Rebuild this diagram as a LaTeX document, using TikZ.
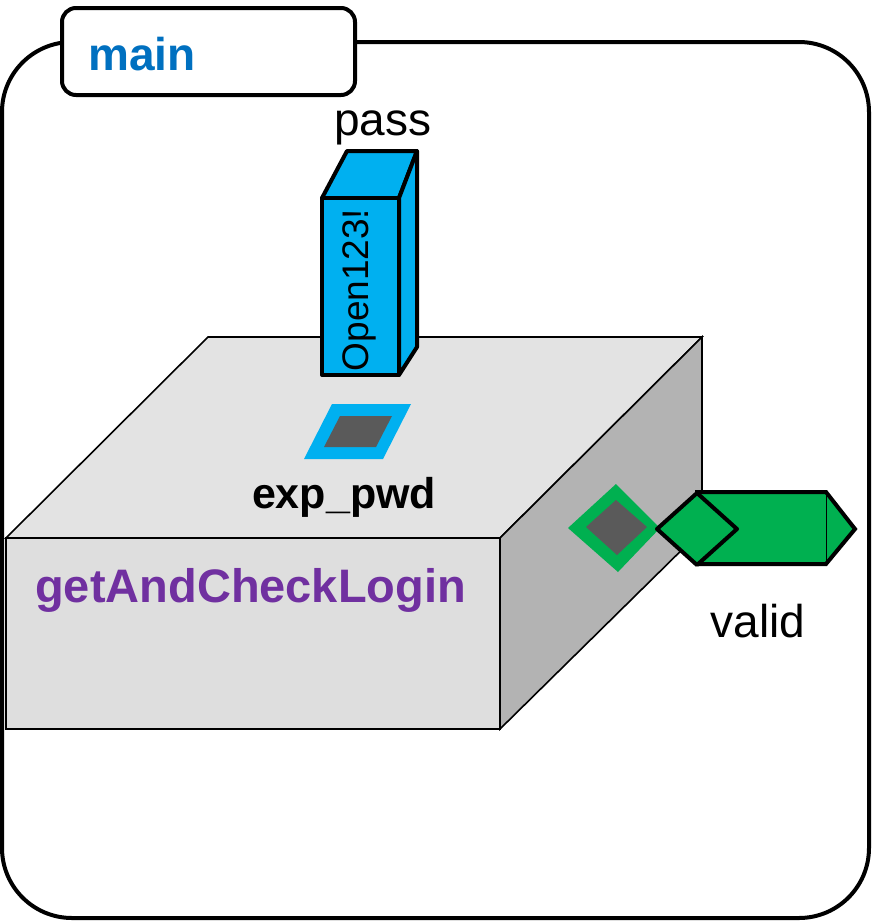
\documentclass[tikz,border=0pt]{standalone}
\usepackage{fontspec}
\setmainfont{Liberation Sans}
\usepackage{tikz}
\usetikzlibrary{positioning, calc}
\definecolor{frameBlack}{RGB}{0, 0, 0}
\definecolor{tabBlue}{RGB}{0, 112, 192}
\definecolor{labelPurple}{RGB}{112, 48, 160}
\definecolor{portBlue}{RGB}{0, 176, 240}
\definecolor{portGreen}{RGB}{0, 176, 80}
\definecolor{portCore}{RGB}{90, 90, 90}
\definecolor{boxTop}{RGB}{227, 227, 227}
\definecolor{boxFront}{RGB}{222, 222, 222}
\definecolor{boxSide}{RGB}{179, 179, 179}
\tikzset{
  frameLine/.style={
    draw=frameBlack,
    line width=4pt
  },
  boxFace/.style={
    draw=frameBlack,
    line width=1.6pt,
    line join=miter
  },
  pinFace/.style={
    draw=frameBlack,
    fill=portBlue,
    line width=4pt,
    line join=round
  },
  outFace/.style={
    draw=frameBlack,
    fill=portGreen,
    line width=4pt,
    line join=round
  },
  bigText/.style={
    inner sep=0pt,
    font=\fontsize{46}{50}\selectfont
  }
}

\begin{document}
\begin{tikzpicture}[x=1pt, y=-1pt]
      \useasboundingbox (0,0) rectangle (873,922);

      % Outer frame with tab
      \draw[frameLine, rounded corners=70pt] (2,42) rectangle (869,918);
      \draw[frameLine, fill=white, rounded corners=14pt] (62,8) rectangle (355,95);
      \node[bigText, anchor=base west, text=tabBlue, font=\fontsize{46}{50}\selectfont\bfseries] (mainLabel) at (88,70) {main};

      % Block: top, side and front faces
      \draw[boxFace, fill=boxTop] (6,538) -- (208,337) -- (702,337) -- (500,538) -- cycle;
      \draw[boxFace, fill=boxSide] (500,538) -- (702,337) -- (702,530) -- (500,729) -- cycle;
      \draw[boxFace, fill=boxFront] (6,538) rectangle (500,729);
      \node[bigText, anchor=base west, text=labelPurple, font=\fontsize{47}{50}\selectfont\bfseries] (blockLabel) at (35,602) {getAndCheckLogin};

      % Input port on top face
      \fill[portBlue] (332,404) -- (411,404) -- (383,459) -- (304,459) -- cycle;
      \fill[portCore] (340,416) -- (392,416) -- (376,447) -- (324,447) -- cycle;
      \node[bigText, anchor=base, font=\fontsize{43}{46}\selectfont\bfseries] (pinLabel) at (344,508) {exp\_pwd};

      % Constant pass column
      \draw[pinFace] (322,198) -- (347,151) -- (417,151) -- (399,198) -- cycle;
      \draw[pinFace] (399,198) -- (417,151) -- (417,347) -- (399,375) -- cycle;
      \draw[pinFace] (322,198) rectangle (399,375);
      \node[bigText, anchor=base, rotate=90, font=\fontsize{37}{40}\selectfont] (passValue) at (368,290) {Open123!};
      \node[bigText, anchor=base] (passLabel) at (383,135) {pass};

      % Output port on side face
      \fill[portGreen] (568,528) -- (616,484) -- (660,528) -- (618,572) -- cycle;
      \fill[portCore] (586,527) -- (616,500) -- (647,527) -- (617,555) -- cycle;

      % Output valid
      \draw[outFace, line join=miter] (697,492) -- (826,492) -- (855,529) -- (826,564) -- (697,564) -- cycle;
      \draw[frameBlack, line width=1pt] (826,494) -- (826,562);
      \draw[outFace] (657,529) -- (697,493) -- (737,529) -- (697,565) -- cycle;
      \node[bigText, anchor=base] (validLabel) at (758,637) {valid};
    \end{tikzpicture}
\end{document}
